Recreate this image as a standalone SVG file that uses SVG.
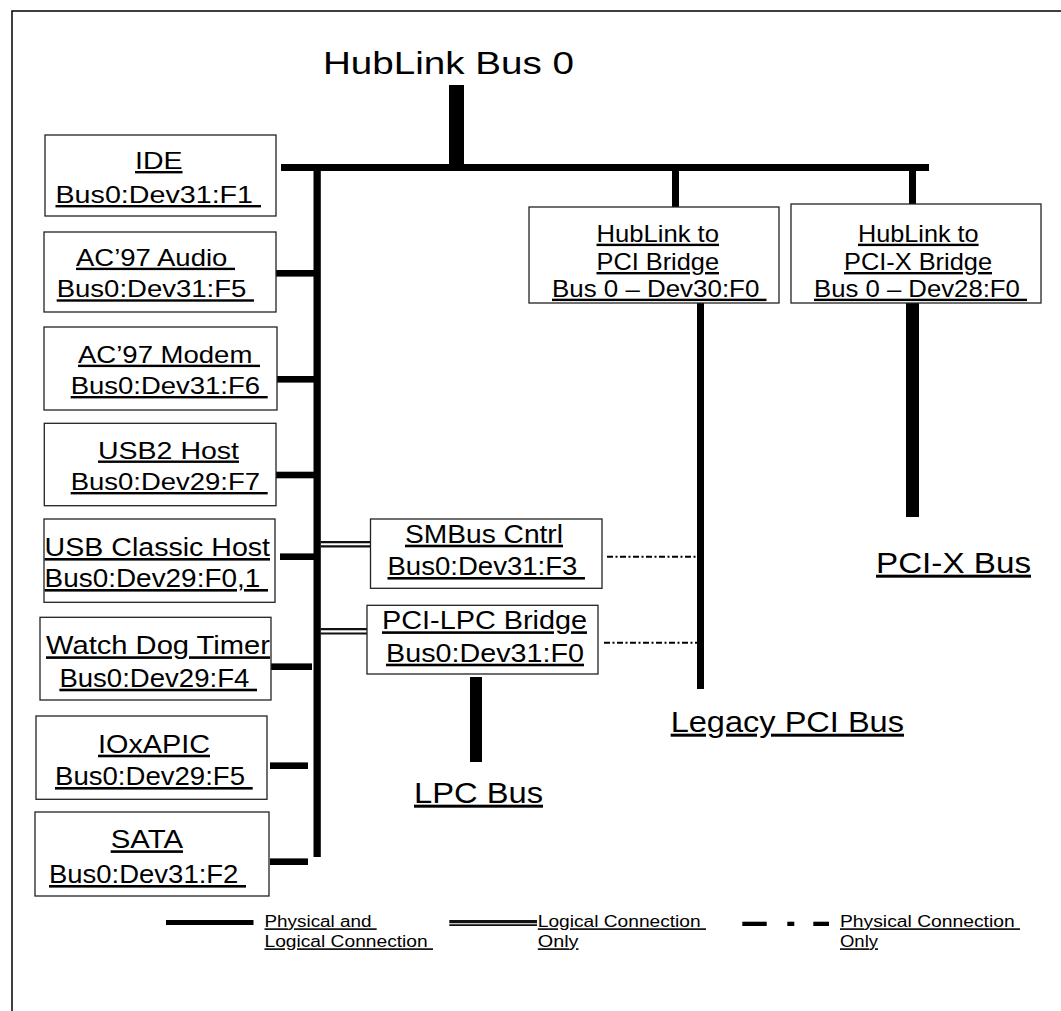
<svg xmlns="http://www.w3.org/2000/svg" width="1061" height="1011" viewBox="0 0 1061 1011">
<style>
text{font-family:"Liberation Sans",Arial,sans-serif;fill:#000;white-space:pre}
.t{font-size:24px;text-decoration:underline}
.n{font-family:"Liberation Sans Narrow","Liberation Sans",Arial,sans-serif;font-size:26px;text-decoration:underline}
.b{font-size:30px;text-decoration:underline}
.lg{font-family:"Liberation Sans Narrow","Liberation Sans",Arial,sans-serif;font-size:16px;text-decoration:underline}
.box{fill:#fff;stroke:#222;stroke-width:1.3}
.bar{fill:#000}
.dd{stroke:#000;stroke-width:1.9;stroke-dasharray:6 2.5 2 2.5;fill:none}
.dbl{stroke:#111;stroke-width:2.2;fill:none}
</style>
<rect width="1061" height="1011" fill="#fff"/>
<path d="M12,1011 V11 H1061" fill="none" stroke="#000" stroke-width="1.5"/>

<g id="connectors">
  <rect class="bar" x="449" y="85" width="15" height="82"/>
  <rect class="bar" x="281" y="164" width="648" height="7"/>
  <rect class="bar" x="313.5" y="164" width="7.3" height="693"/>
  <rect class="bar" x="672" y="164" width="7" height="43"/>
  <rect class="bar" x="909" y="164" width="7" height="40"/>
  <rect class="bar" x="276" y="270" width="38" height="6.6"/>
  <rect class="bar" x="277" y="376" width="37" height="6.6"/>
  <rect class="bar" x="276" y="471.7" width="38" height="6.6"/>
  <rect class="bar" x="280" y="553.4" width="34" height="6.6"/>
  <rect class="bar" x="271" y="663.4" width="41" height="6.6"/>
  <rect class="bar" x="270" y="762.4" width="38" height="6.6"/>
  <rect class="bar" x="270" y="858.4" width="38" height="6.6"/>
  <line class="dbl" x1="320.5" y1="542.2" x2="370.5" y2="542.2"/>
  <line class="dbl" x1="320.5" y1="546.3" x2="370.5" y2="546.3"/>
  <line class="dbl" x1="320.5" y1="629.2" x2="367" y2="629.2"/>
  <line class="dbl" x1="320.5" y1="633.5" x2="367" y2="633.5"/>
  <line class="dd" x1="607" y1="556.8" x2="697" y2="556.8"/>
  <line class="dd" x1="604" y1="642.7" x2="697" y2="642.7"/>
  <rect class="bar" x="697" y="303" width="7" height="386"/>
  <rect class="bar" x="906" y="303" width="13" height="214"/>
  <rect class="bar" x="470" y="677" width="12" height="85"/>
</g>

<g id="title">
  <text x="323" y="74" font-size="31" textLength="251" lengthAdjust="spacingAndGlyphs">HubLink Bus 0</text>
</g>

<g id="ide">
  <rect class="box" x="45" y="135" width="231" height="81"/>
  <text class="t" x="135" y="169" textLength="47.5" lengthAdjust="spacingAndGlyphs">IDE</text>
  <text class="t" x="55.5" y="203" textLength="205.5" lengthAdjust="spacingAndGlyphs">Bus0:Dev31:F1 </text>
</g>
<g id="ac97-audio">
  <rect class="box" x="44" y="232" width="232" height="80"/>
  <text class="t" x="76" y="265.7" textLength="159" lengthAdjust="spacingAndGlyphs">AC’97 Audio </text>
  <text class="t" x="56.7" y="297.3" textLength="197.3" lengthAdjust="spacingAndGlyphs">Bus0:Dev31:F5 </text>
</g>
<g id="ac97-modem">
  <rect class="box" x="44" y="327" width="233" height="83"/>
  <text class="t" x="78" y="362.7" textLength="182" lengthAdjust="spacingAndGlyphs">AC’97 Modem </text>
  <text class="t" x="70.7" y="394" textLength="197" lengthAdjust="spacingAndGlyphs">Bus0:Dev31:F6 </text>
</g>
<g id="usb2-host">
  <rect class="box" x="44.3" y="423.3" width="231.7" height="82.4"/>
  <text class="t" x="98" y="458.5" textLength="141" lengthAdjust="spacingAndGlyphs">USB2 Host</text>
  <text class="t" x="70.7" y="490" textLength="197" lengthAdjust="spacingAndGlyphs">Bus0:Dev29:F7 </text>
</g>
<g id="usb-classic-host">
  <rect class="box" x="44" y="519" width="231" height="83.3"/>
  <text class="n" x="44.6" y="556" textLength="225.4" lengthAdjust="spacingAndGlyphs">USB Classic Host</text>
  <text class="n" x="44.6" y="587" textLength="223.4" lengthAdjust="spacingAndGlyphs">Bus0:Dev29:F0,1 </text>
</g>
<g id="watch-dog-timer">
  <rect class="box" x="40" y="617.3" width="231" height="82.7"/>
  <text class="n" x="46" y="654.3" textLength="224" lengthAdjust="spacingAndGlyphs">Watch Dog Timer</text>
  <text class="n" x="59.4" y="686.7" textLength="197.6" lengthAdjust="spacingAndGlyphs">Bus0:Dev29:F4 </text>
</g>
<g id="ioxapic">
  <rect class="box" x="36" y="716" width="231" height="83.3"/>
  <text class="n" x="98" y="752.7" textLength="112" lengthAdjust="spacingAndGlyphs">IOxAPIC</text>
  <text class="n" x="55" y="785" textLength="197.7" lengthAdjust="spacingAndGlyphs">Bus0:Dev29:F5 </text>
</g>
<g id="sata">
  <rect class="box" x="35" y="812" width="234" height="84"/>
  <text class="n" x="110.7" y="848.3" textLength="72.3" lengthAdjust="spacingAndGlyphs">SATA</text>
  <text class="n" x="49" y="883" textLength="197" lengthAdjust="spacingAndGlyphs">Bus0:Dev31:F2 </text>
</g>
<g id="smbus-cntrl">
  <rect class="box" x="370.5" y="519" width="231.5" height="69.3"/>
  <text class="n" x="405" y="542.7" textLength="158" lengthAdjust="spacingAndGlyphs">SMBus Cntrl</text>
  <text class="n" x="387.5" y="575" textLength="197.5" lengthAdjust="spacingAndGlyphs">Bus0:Dev31:F3 </text>
</g>
<g id="pci-lpc-bridge">
  <rect class="box" x="367" y="605.3" width="231" height="68.7"/>
  <text class="n" x="382" y="629.3" textLength="205" lengthAdjust="spacingAndGlyphs">PCI-LPC Bridge</text>
  <text class="n" x="386" y="661.7" textLength="198" lengthAdjust="spacingAndGlyphs">Bus0:Dev31:F0</text>
</g>
<g id="hublink-pci-bridge">
  <rect class="box" x="529" y="207" width="250" height="96"/>
  <text class="t" x="596.5" y="241.7" textLength="122.5" lengthAdjust="spacingAndGlyphs">HubLink to</text>
  <text class="t" x="596.5" y="270" textLength="122.5" lengthAdjust="spacingAndGlyphs">PCI Bridge</text>
  <text class="t" x="552" y="296.7" textLength="214.5" lengthAdjust="spacingAndGlyphs">Bus 0 – Dev30:F0 </text>
</g>
<g id="hublink-pcix-bridge">
  <rect class="box" x="791" y="204" width="250" height="99"/>
  <text class="t" x="858" y="241.7" textLength="120.6" lengthAdjust="spacingAndGlyphs">HubLink to</text>
  <text class="t" x="844" y="270" textLength="148" lengthAdjust="spacingAndGlyphs">PCI-X Bridge</text>
  <text class="t" x="814" y="296.7" textLength="213" lengthAdjust="spacingAndGlyphs">Bus 0 – Dev28:F0 </text>
</g>
<g id="pcix-bus">
  <text class="b" x="876" y="572.7" textLength="155" lengthAdjust="spacingAndGlyphs">PCI-X Bus</text>
</g>
<g id="legacy-pci-bus">
  <text class="b" x="670.7" y="731.7" textLength="233.3" lengthAdjust="spacingAndGlyphs">Legacy PCI Bus</text>
</g>
<g id="lpc-bus">
  <text class="b" x="414" y="802.7" textLength="129" lengthAdjust="spacingAndGlyphs">LPC Bus</text>
</g>

<g id="legend">
  <rect class="bar" x="166" y="920" width="87.5" height="5"/>
  <text class="lg" x="264.5" y="927.3" textLength="112.2" lengthAdjust="spacingAndGlyphs">Physical and </text>
  <text class="lg" x="264.5" y="947.3" textLength="168.5" lengthAdjust="spacingAndGlyphs">Logical Connection </text>
  <line x1="449.3" y1="921.7" x2="537" y2="921.7" stroke="#111" stroke-width="3.3"/>
  <line x1="449.3" y1="925.2" x2="537" y2="925.2" stroke="#111" stroke-width="1.7"/>
  <text class="lg" x="537.8" y="927.3" textLength="168.2" lengthAdjust="spacingAndGlyphs">Logical Connection </text>
  <text class="lg" x="537.8" y="947.3" textLength="40.7" lengthAdjust="spacingAndGlyphs">Only</text>
  <rect class="bar" x="742.3" y="921.7" width="24.4" height="4.3"/>
  <rect class="bar" x="787.3" y="921.7" width="7" height="4.3"/>
  <rect class="bar" x="813.3" y="921.7" width="15.7" height="4.3"/>
  <text class="lg" x="840" y="927.3" textLength="180" lengthAdjust="spacingAndGlyphs">Physical Connection </text>
  <text class="lg" x="840" y="947.3" textLength="38" lengthAdjust="spacingAndGlyphs">Only</text>
</g>
</svg>
